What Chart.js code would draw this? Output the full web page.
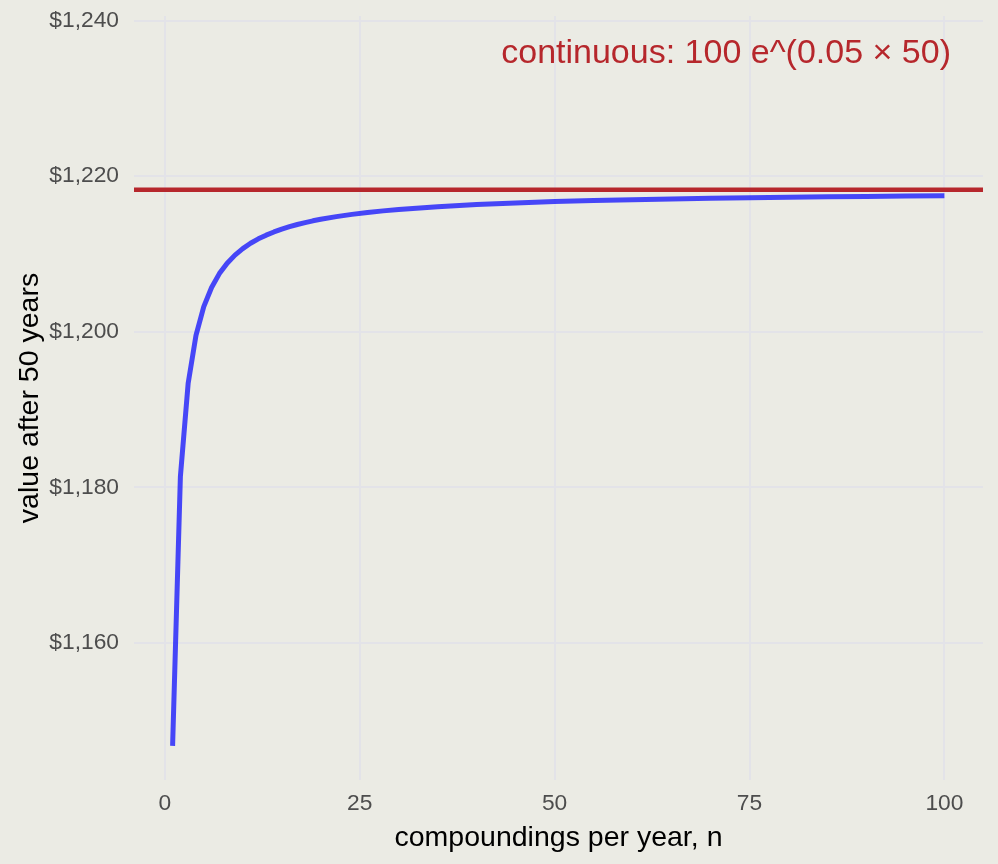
<!DOCTYPE html>
<html><head><meta charset="utf-8">
<script src="https://cdn.jsdelivr.net/npm/chart.js@4.4.1/dist/chart.umd.min.js"></script>
<style>
html,body{margin:0;padding:0;background:#EBEBE4;}
#wrap{width:998px;height:864px;position:relative;}
canvas{display:block;}
</style>
</head><body>
<div id="wrap"><canvas id="c"></canvas></div>
<script>
// compoundings per year n, and value after 50 years of $100 at 5%
const compoundings = [1,2,3,4,5,6,7,8,9,10,11,12,13,14,15,16,17,18,19,20,22,24,26,28,30,35,40,45,50,55,60,65,70,75,80,85,90,95,100];
const values = [1146.74,1181.37,1193.40,1199.52,1203.22,1205.69,1207.47,1208.81,1209.85,1210.68,
  1211.37,1211.94,1212.42,1212.83,1213.19,1213.51,1213.79,1214.03,1214.26,1214.46,
  1214.80,1215.09,1215.33,1215.54,1215.72,1216.08,1216.35,1216.56,1216.73,1216.87,
  1216.98,1217.08,1217.16,1217.23,1217.30,1217.35,1217.40,1217.45,1217.49];
const continuousValue = 1218.25;
const xTicks = [0,25,50,75,100];
const yTicks = [1160,1180,1200,1220,1240];
const annotationText = 'continuous: 100 e^(0.05 \u00d7 50)';
const annotationPos = {x: 72.0, y: 1235.7};
const xTitle = 'compoundings per year, n';
const yTitle = 'value after 50 years';

const FONT = '"Liberation Sans", Arial, Helvetica, sans-serif';
const RED = '#B6272C';
const GRID = '#E3E3E8';

const canvas = document.getElementById('c');
canvas.width = 998; canvas.height = 864;
canvas.style.width = '998px'; canvas.style.height = '864px';

const overlay = {
  id: 'overlay',
  afterDatasetsDraw(chart) {
    const {ctx, chartArea, scales} = chart;
    const y = scales.y.getPixelForValue(continuousValue);
    ctx.save();
    ctx.strokeStyle = RED;
    ctx.lineWidth = 4.5;
    ctx.beginPath();
    ctx.moveTo(chartArea.left, y);
    ctx.lineTo(chartArea.right, y);
    ctx.stroke();
    ctx.fillStyle = RED;
    ctx.font = '34px ' + FONT;
    ctx.textAlign = 'center';
    ctx.textBaseline = 'middle';
    ctx.fillText(annotationText, scales.x.getPixelForValue(annotationPos.x), scales.y.getPixelForValue(annotationPos.y));
    ctx.restore();
  }
};

new Chart(canvas, {
  type: 'line',
  data: {
    datasets: [{
      data: compoundings.map((n, i) => ({x: n, y: values[i]})),
      borderColor: 'rgba(0,0,255,0.7)',
      borderWidth: 5,
      borderJoinStyle: 'round',
      pointRadius: 0,
      tension: 0,
      fill: false
    }]
  },
  options: {
    responsive: false,
    animation: false,
    devicePixelRatio: 1,
    layout: {padding: {top: 16, right: 15, left: 0, bottom: 0}},
    plugins: {legend: {display: false}, tooltip: {enabled: false}},
    scales: {
      x: {
        type: 'linear',
        min: -3.95, max: 104.95,
        afterBuildTicks: s => { s.ticks = xTicks.map(v => ({value: v})); },
        afterFit: s => { s.height = 84; s.paddingLeft = 0; s.paddingRight = 0; s.paddingTop = 0; s.paddingBottom = 0; },
        grid: {color: GRID, lineWidth: 2, drawTicks: false},
        border: {display: false},
        ticks: {color: '#4D4D4D', font: {family: FONT, size: 22.8}, padding: 10, autoSkip: false, maxRotation: 0},
        title: {display: true, text: xTitle, color: '#000', font: {family: FONT, size: 28.5}, padding: {top: 0, bottom: 9}}
      },
      y: {
        type: 'linear',
        min: 1142.35, max: 1240.6,
        afterBuildTicks: s => { s.ticks = yTicks.map(v => ({value: v})); },
        afterFit: s => { s.width = 134; s.paddingLeft = 0; s.paddingRight = 0; s.paddingTop = 0; s.paddingBottom = 0; },
        grid: {color: GRID, lineWidth: 2, drawTicks: false},
        border: {display: false},
        ticks: {color: '#4D4D4D', font: {family: FONT, size: 22.8}, padding: 15, autoSkip: false,
          callback: v => '$' + Number(v).toLocaleString('en-US')},
        title: {display: true, text: yTitle, color: '#000', font: {family: FONT, size: 28.5}, padding: {top: 13, bottom: 0}}
      }
    }
  },
  plugins: [overlay]
});
</script>
</body></html>
